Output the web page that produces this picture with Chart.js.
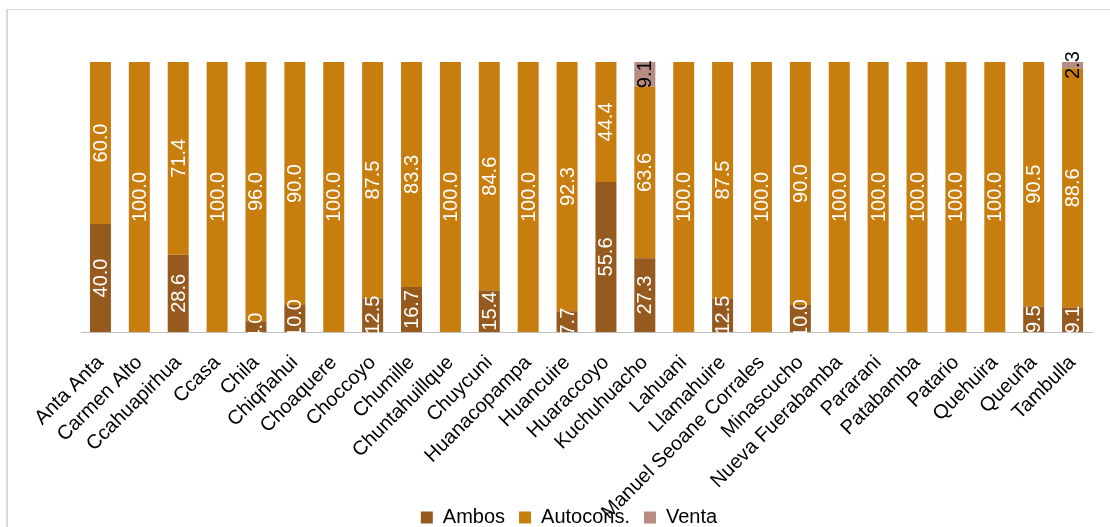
<!DOCTYPE html>
<html>
<head>
<meta charset="utf-8">
<script src="https://cdn.jsdelivr.net/npm/chart.js@4.4.1/dist/chart.umd.min.js"></script>
<style>
  html, body { margin: 0; padding: 0; background: #ffffff; }
  #wrap { width: 1110px; height: 527px; position: relative; }
</style>
</head>
<body>
<div id="wrap"><canvas id="c"></canvas></div>
<script>
const categories = ["Anta Anta", "Carmen Alto", "Ccahuapirhua", "Ccasa", "Chila", "Chiqñahui", "Choaquere", "Choccoyo", "Chumille", "Chuntahuillque", "Chuycuni", "Huanacopampa", "Huancuire", "Huaraccoyo", "Kuchuhuacho", "Lahuani", "Llamahuire", "Manuel Seoane Corrales", "Minascucho", "Nueva Fuerabamba", "Pararani", "Patabamba", "Patario", "Quehuira", "Queuña", "Tambulla"];
const ambos    = [40.0, null, 28.6, null, 4.0, 10.0, null, 12.5, 16.7, null, 15.4, null, 7.7, 55.6, 27.3, null, 12.5, null, 10.0, null, null, null, null, null, 9.5, 9.1];
const autocons = [60.0, 100.0, 71.4, 100.0, 96.0, 90.0, 100.0, 87.5, 83.3, 100.0, 84.6, 100.0, 92.3, 44.4, 63.6, 100.0, 87.5, 100.0, 90.0, 100.0, 100.0, 100.0, 100.0, 100.0, 90.5, 88.6];
const venta    = [null, null, null, null, null, null, null, null, null, null, null, null, null, null, 9.1, null, null, null, null, null, null, null, null, null, null, 2.3];
const seriesNames = ["Ambos", "Autocons.", "Venta"];

const FONT = "'Liberation Sans', Arial, sans-serif";

const framePlugin = {
  id: 'frame',
  beforeDraw(chart) {
    const ctx = chart.ctx;
    ctx.save();
    ctx.fillStyle = '#d9d9d9';
    ctx.fillRect(6, 9, 1110, 1);
    ctx.fillRect(6, 9, 2, 520);
    ctx.restore();
  }
};

const layoutTweak = {
  id: 'layoutTweak',
  afterLayout(chart) {
    const lg = chart.legend;
    if (lg) {
      const dx = 569 - (lg.left + lg.right) / 2;
      lg.left += dx; lg.right += dx;
      lg.top += 10.5; lg.bottom += 10.5;
    }
    const xs = chart.scales.x;
    if (xs) { xs.bottom = chart.height; }
  }
};

const labelPlugin = {
  id: 'barLabels',
  afterDatasetsDraw(chart) {
    const ctx = chart.ctx;
    ctx.save();
    ctx.font = '20px ' + FONT;
    ctx.textAlign = 'center';
    ctx.textBaseline = 'middle';
    chart.data.datasets.forEach((ds, di) => {
      const meta = chart.getDatasetMeta(di);
      meta.data.forEach((bar, i) => {
        const v = ds.data[i];
        if (v === null || v === undefined) return;
        const p = bar.getProps(['x', 'y', 'base'], true);
        const cy = (p.y + p.base) / 2;
        ctx.save();
        ctx.translate(p.x, cy);
        ctx.rotate(-Math.PI / 2);
        ctx.fillStyle = di === 2 ? '#000000' : '#ffffff';
        ctx.fillText(v.toFixed(1), 0, 1);
        ctx.restore();
      });
    });
    ctx.restore();
  }
};

new Chart(document.getElementById('c'), {
  type: 'bar',
  data: {
    labels: categories,
    datasets: [
      { label: seriesNames[0], data: ambos, backgroundColor: '#965A1E' },
      { label: seriesNames[1], data: autocons, backgroundColor: '#C87D0F' },
      { label: seriesNames[2], data: venta, backgroundColor: '#B78C82' }
    ]
  },
  options: {
    responsive: true,
    maintainAspectRatio: false,
    animation: false,
    devicePixelRatio: 1,
    layout: { padding: { left: 81, right: 18, top: 62, bottom: 0 } },
    datasets: { bar: { barPercentage: 0.54, categoryPercentage: 1.0 } },
    scales: {
      x: {
        stacked: true,
        grid: { display: false, drawTicks: false },
        border: { display: true, color: '#bfbfbf', width: 1 },
        ticks: {
          autoSkip: false,
          maxRotation: 45,
          minRotation: 45,
          padding: 19,
          color: '#000000',
          font: { family: FONT, size: 20 }
        },
        afterFit(scale) { scale.height = 151; }
      },
      y: {
        stacked: true,
        display: false,
        min: 0,
        max: 100
      }
    },
    plugins: {
      legend: {
        position: 'bottom',
        labels: {
          boxWidth: 12,
          boxHeight: 12,
          padding: 14,
          color: '#000000',
          font: { family: FONT, size: 20 }
        }
      },
      tooltip: { enabled: false }
    }
  },
  plugins: [framePlugin, layoutTweak, labelPlugin]
});
</script>
</body>
</html>
